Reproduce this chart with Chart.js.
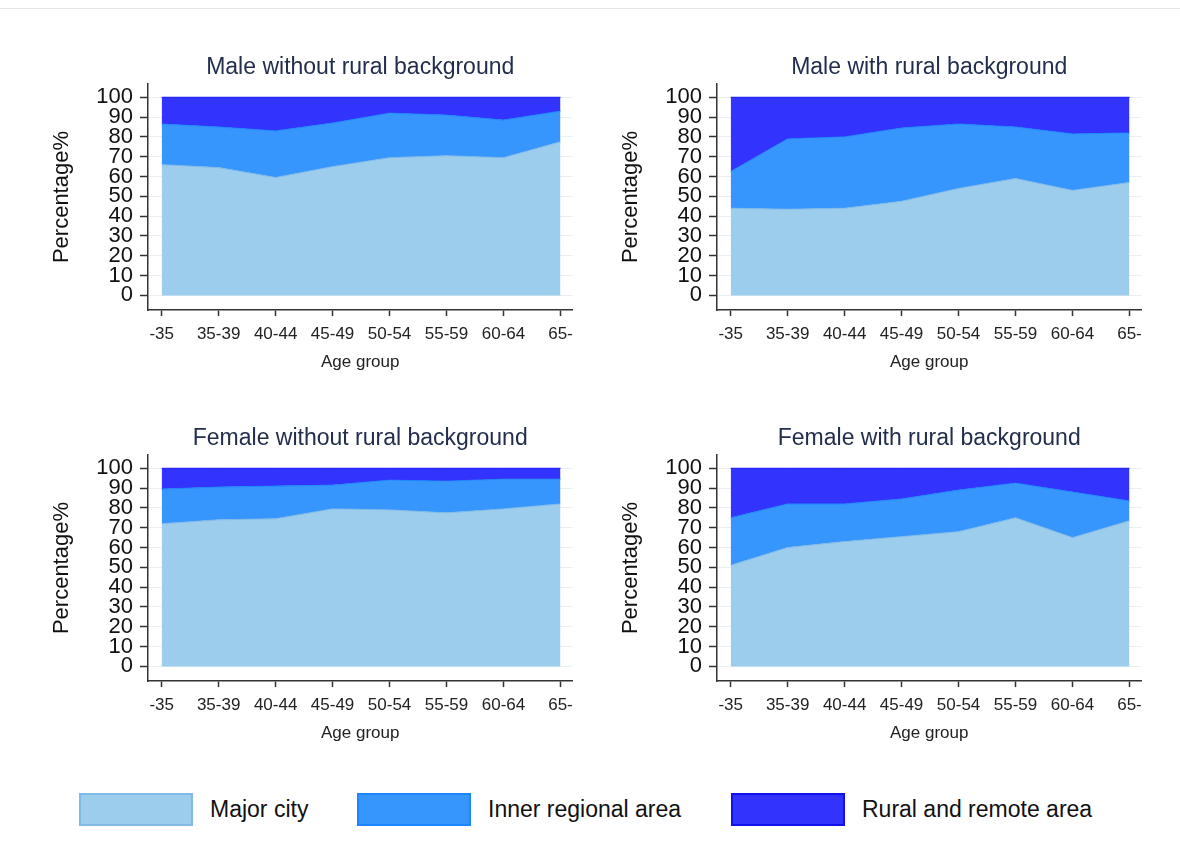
<!DOCTYPE html>
<html>
<head>
<meta charset="utf-8">
<script src="https://cdn.jsdelivr.net/npm/chart.js@4.4.1/dist/chart.umd.min.js"></script>
<style>
  body { margin: 0; background: #fff; font-family: "Liberation Sans", Arial, sans-serif; }
  #page { position: relative; width: 1180px; height: 858px; overflow: hidden; }
  #topline { position: absolute; left: 0; top: 8px; width: 1180px; height: 1px; background: #e6e6e6; }
  canvas { position: absolute; }
  .key { position: absolute; top: 793px; height: 33px; display: flex; align-items: center; }
  .swatch { width: 110px; height: 29px; border: 2px solid; margin-right: 17px; }
  .key span { font-size: 23px; color: #111; }
</style>
</head>
<body>
<div id="page">
  <div id="topline"></div>
  <canvas id="c1" width="541" height="333" style="left:40px;top:40px"></canvas>
  <canvas id="c2" width="541" height="333" style="left:609px;top:40px"></canvas>
  <canvas id="c3" width="541" height="333" style="left:40px;top:411px"></canvas>
  <canvas id="c4" width="541" height="333" style="left:609px;top:411px"></canvas>

  <div class="key" style="left:79px"><div class="swatch" style="background:#9dcdec;border-color:#80bbe8"></div><span>Major city</span></div>
  <div class="key" style="left:357px"><div class="swatch" style="background:#3696fe;border-color:#1a86ff"></div><span>Inner regional area</span></div>
  <div class="key" style="left:731px"><div class="swatch" style="background:#3333fe;border-color:#1212ee"></div><span>Rural and remote area</span></div>
</div>

<script>
// Age groups (x axis) and y tick values
const ageGroups = ['-35', '35-39', '40-44', '45-49', '50-54', '55-59', '60-64', '65-'];
const yTicks = [0, 10, 20, 30, 40, 50, 60, 70, 80, 90, 100];

// Male without rural background (%)
const maleUrbanMajor = [66, 64.5, 59.5, 65, 69.5, 70.5, 69.5, 77.5];
const maleUrbanInner = [20.5, 20.5, 23.5, 22, 22.5, 20.5, 19, 15.5];
const maleUrbanRural = [13.5, 15, 17, 13, 8, 9, 11.5, 7];

// Male with rural background (%)
const maleRuralMajor = [44, 43.5, 44, 47.5, 54, 59, 53, 57];
const maleRuralInner = [18.5, 35.5, 36, 37, 32.5, 26, 28.5, 25];
const maleRuralRural = [37.5, 21, 20, 15.5, 13.5, 15, 18.5, 18];

// Female without rural background (%)
const femaleUrbanMajor = [72, 74, 74.5, 79.5, 79, 77.5, 79.5, 82];
const femaleUrbanInner = [17.5, 16.5, 16.5, 12, 15, 16, 15, 12.5];
const femaleUrbanRural = [10.5, 9.5, 9, 8.5, 6, 6.5, 5.5, 5.5];

// Female with rural background (%)
const femaleRuralMajor = [51, 60, 63, 65.5, 68, 75, 65, 73.5];
const femaleRuralInner = [24, 22, 19, 19, 21, 17.5, 23, 10];
const femaleRuralRural = [25, 18, 18, 15.5, 11, 7.5, 12, 16.5];

const FONT = '"Liberation Sans", Arial, sans-serif';

function points(values) {
  return ageGroups.map((g, i) => ({ x: i, y: values[i] }));
}

function makePanel(id, title, major, inner, rural) {
  const ctx = document.getElementById(id).getContext('2d');
  new Chart(ctx, {
    type: 'line',
    data: {
      datasets: [
        { label: 'Major city', data: points(major), fill: 'origin',
          backgroundColor: '#9dcdec', borderColor: '#7fb9e8', borderWidth: 1 },
        { label: 'Inner regional area', data: points(inner), fill: '-1',
          backgroundColor: '#3696fe', borderColor: '#1c86ff', borderWidth: 1 },
        { label: 'Rural and remote area', data: points(rural), fill: '-1',
          backgroundColor: '#3333fe', borderColor: '#1818f0', borderWidth: 1 }
      ]
    },
    options: {
      responsive: false,
      animation: false,
      devicePixelRatio: 1,
      layout: { padding: 0 },
      elements: { point: { radius: 0 }, line: { tension: 0 } },
      plugins: {
        legend: { display: false },
        tooltip: { enabled: false },
        title: {
          display: true,
          text: title,
          fullSize: false,
          color: '#222e4c',
          font: { family: FONT, size: 23, weight: 'normal' },
          padding: { top: 14, bottom: 2.4 }
        }
      },
      scales: {
        x: {
          type: 'linear',
          min: -0.24,
          max: 7.21,
          afterBuildTicks: s => { s.ticks = ageGroups.map((g, i) => ({ value: i })); },
          afterFit: s => { s.height = 62.9; },
          ticks: {
            autoSkip: false,
            maxRotation: 0,
            padding: 8,
            color: '#222',
            font: { family: FONT, size: 17 },
            callback: v => ageGroups[v]
          },
          grid: { drawOnChartArea: false, drawTicks: true, tickLength: 6, tickColor: '#333', tickWidth: 1.5 },
          border: { display: true, color: '#333', width: 1.5 },
          title: { display: true, text: 'Age group', color: '#222', padding: 0,
                   font: { family: FONT, size: 17 } }
        },
        y: {
          type: 'linear',
          stacked: true,
          min: -7.4,
          max: 106.7,
          afterBuildTicks: s => { s.ticks = yTicks.map(v => ({ value: v })); },
          afterFit: s => { s.width = 108; },
          ticks: {
            autoSkip: false,
            padding: 7,
            color: '#111',
            font: { family: FONT, size: 22 }
          },
          grid: { color: '#e8f0f2', lineWidth: 1, drawTicks: true, tickLength: 8,
                  tickColor: '#333', tickWidth: 1.5 },
          border: { display: true, color: '#333', width: 1.5 },
          title: { display: true, text: 'Percentage%', color: '#111', padding: { top: 9, bottom: 0 },
                   font: { family: FONT, size: 22 } }
        }
      }
    }
  });
}

makePanel('c1', 'Male without rural background', maleUrbanMajor, maleUrbanInner, maleUrbanRural);
makePanel('c2', 'Male with rural background', maleRuralMajor, maleRuralInner, maleRuralRural);
makePanel('c3', 'Female without rural background', femaleUrbanMajor, femaleUrbanInner, femaleUrbanRural);
makePanel('c4', 'Female with rural background', femaleRuralMajor, femaleRuralInner, femaleRuralRural);
</script>
</body>
</html>
